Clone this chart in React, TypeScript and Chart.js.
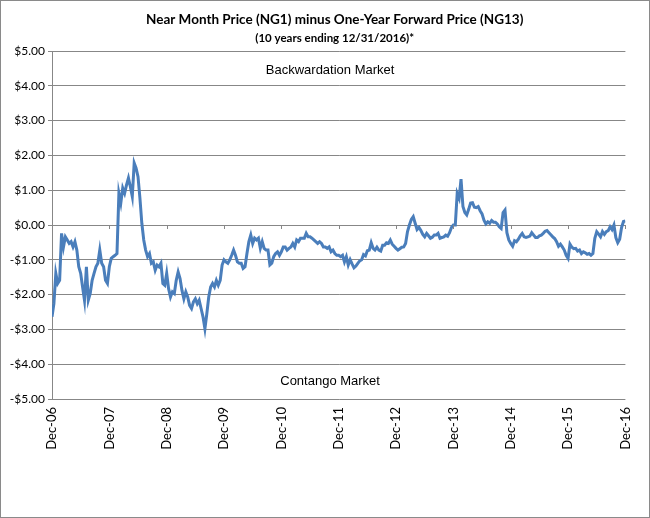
import { useEffect, useRef } from 'react';
import { Chart, registerables } from 'chart.js';

Chart.register(...registerables);

const TITLE = 'Near Month Price (NG1) minus One-Year Forward Price (NG13)';
const SUBTITLE = '(10 years ending 12/31/2016)*';
const TOP_NOTE = 'Backwardation Market';
const BOTTOM_NOTE = 'Contango Market';

const X_LABELS = ['Dec-06', 'Dec-07', 'Dec-08', 'Dec-09', 'Dec-10', 'Dec-11', 'Dec-12', 'Dec-13', 'Dec-14', 'Dec-15', 'Dec-16'];
const Y_MIN = -5;
const Y_MAX = 5;
const STEPS_PER_YEAR = 30;

// NG1 - NG13 spread ($), sampled ~every 12 days, one array per year (Dec to Dec)
const y2007 = [-2.64, -2.26, -1.39, -1.68, -1.59, -0.24, -0.63, -0.34, -0.43, -0.53, -0.48, -0.63, -0.48, -0.72, -1.2, -1.39, -1.78, -2.16, -1.2, -2.16, -1.97, -1.59, -1.39, -1.2, -1.1, -0.72, -1.1, -1.2, -1.59, -1.68];
const y2008 = [-1.2, -0.96, -0.91, -0.87, -0.82, 0.91, 0.63, 1.06, 0.91, 1.15, 1.35, 1.1, 0.82, 1.78, 1.63, 1.39, 0.77, 0.05, -0.43, -0.72, -0.91, -0.82, -1.1, -1.06, -1.3, -1.15, -1.2, -1.1, -1.68, -1.73];
const y2009 = [-1.39, -1.83, -2.07, -1.92, -1.97, -1.59, -1.35, -1.54, -1.88, -2.12, -1.92, -2.07, -2.31, -2.4, -2.21, -2.12, -2.26, -2.16, -2.4, -2.64, -2.98, -2.55, -2.07, -1.78, -1.68, -1.78, -1.59, -1.73, -1.59, -1.15];
const y2010 = [-1.0, -1.06, -1.1, -1.0, -0.87, -0.72, -0.87, -1.06, -1.1, -1.1, -1.25, -1.2, -0.82, -0.48, -0.29, -0.53, -0.38, -0.43, -0.38, -0.67, -0.48, -0.67, -0.72, -0.72, -1.15, -1.1, -0.91, -0.82, -0.77, -0.87];
const y2011 = [-0.77, -0.63, -0.63, -0.72, -0.67, -0.63, -0.53, -0.63, -0.43, -0.48, -0.38, -0.38, -0.38, -0.24, -0.34, -0.34, -0.38, -0.43, -0.48, -0.53, -0.48, -0.53, -0.63, -0.63, -0.67, -0.63, -0.77, -0.72, -0.82, -0.87];
const y2012 = [-0.87, -0.91, -0.87, -1.06, -0.91, -1.15, -1.0, -1.12, -1.23, -1.18, -1.1, -1.03, -1.0, -0.85, -0.89, -0.74, -0.72, -0.51, -0.67, -0.72, -0.64, -0.72, -0.75, -0.58, -0.58, -0.51, -0.53, -0.43, -0.55, -0.61];
const y2013 = [-0.67, -0.72, -0.68, -0.64, -0.63, -0.53, -0.19, 0.0, 0.16, 0.24, 0.05, -0.13, -0.07, -0.16, -0.27, -0.34, -0.24, -0.31, -0.38, -0.35, -0.29, -0.29, -0.24, -0.38, -0.36, -0.34, -0.29, -0.32, -0.22, -0.07];
const y2014 = [0.0, 0.0, 0.91, 0.77, 1.32, 0.53, 0.36, 0.29, 0.45, 0.63, 0.64, 0.51, 0.5, 0.53, 0.41, 0.32, 0.14, 0.03, 0.09, 0.05, 0.13, 0.08, 0.08, 0.03, -0.05, -0.1, 0.36, 0.43, -0.22, -0.43];
const y2015 = [-0.53, -0.61, -0.45, -0.48, -0.41, -0.31, -0.24, -0.34, -0.36, -0.34, -0.32, -0.22, -0.29, -0.36, -0.36, -0.31, -0.29, -0.24, -0.18, -0.16, -0.22, -0.28, -0.34, -0.39, -0.48, -0.61, -0.55, -0.63, -0.72, -0.87];
const y2016 = [-0.96, -0.55, -0.64, -0.68, -0.67, -0.75, -0.72, -0.82, -0.77, -0.8, -0.84, -0.82, -0.87, -0.82, -0.38, -0.19, -0.26, -0.34, -0.19, -0.27, -0.19, -0.16, -0.05, -0.13, 0.0, -0.36, -0.51, -0.41, -0.07, 0.1, 0.12];

const YEARS = [y2007, y2008, y2009, y2010, y2011, y2012, y2013, y2014, y2015, y2016];

const LINE_COLOR = 'rgb(74,126,187)';
const GRID_COLOR = '#878787';

const fmtMoney = (v: number) => (v < 0 ? '-' : '') + '$' + Math.abs(v).toFixed(2);

const overlayPlugin = {
  id: 'overlay',
  afterDraw(chart: any) {
    const { ctx, chartArea, scales } = chart;
    const cx = (chartArea.left + chartArea.right) / 2 - 4;
    ctx.save();
    ctx.fillStyle = '#000';
    ctx.textAlign = 'center';
    ctx.textBaseline = 'middle';
    ctx.font = 'bold 13.5px Lato';
    ctx.fillText(TITLE, cx, 19);
    ctx.font = 'bold 11.5px Lato';
    ctx.fillText(SUBTITLE, cx, 37);
    ctx.font = '13px "Liberation Sans"';
    ctx.fillText(TOP_NOTE, scales.x.getPixelForValue(4.85), scales.y.getPixelForValue(4.45));
    ctx.fillText(BOTTOM_NOTE, scales.x.getPixelForValue(4.85), scales.y.getPixelForValue(-4.5));
    // tick marks on the zero line
    const y0 = scales.y.getPixelForValue(0);
    ctx.strokeStyle = GRID_COLOR;
    ctx.lineWidth = 1;
    for (let k = 1; k < X_LABELS.length; k++) {
      const x = Math.round(scales.x.getPixelForValue(k)) + 0.5;
      ctx.beginPath();
      ctx.moveTo(x, y0);
      ctx.lineTo(x, y0 + 4);
      ctx.stroke();
    }
    ctx.restore();
  },
};

export default function App() {
  const ref = useRef<HTMLCanvasElement>(null);
  useEffect(() => {
    document.body.style.margin = '0';
    const points = YEARS.flatMap((arr, k) => arr.map((v, i) => ({ x: k + i / STEPS_PER_YEAR, y: v })));
    const chart = new Chart(ref.current as HTMLCanvasElement, {
      type: 'line',
      data: {
        datasets: [
          {
            data: points,
            borderColor: LINE_COLOR,
            borderWidth: 3,
            pointRadius: 0,
            tension: 0,
            fill: false,
          },
        ],
      },
      options: {
        animation: false,
        responsive: false,
        layout: { padding: { top: 50, right: 7, left: 0, bottom: 0 } },
        plugins: { legend: { display: false }, tooltip: { enabled: false } },
        scales: {
          x: {
            type: 'linear',
            min: 0,
            max: X_LABELS.length - 1,
            afterBuildTicks: (s: any) => {
              s.ticks = X_LABELS.map((_, i) => ({ value: i }));
            },
            ticks: {
              callback: (v: any) => X_LABELS[v],
              maxRotation: 90,
              minRotation: 90,
              autoSkip: false,
              padding: 8,
              color: '#000',
              font: { family: 'Lato', size: 13 },
            },
            grid: { display: false, drawTicks: false },
            border: { display: false },
            afterFit: (s: any) => {
              s.height = 118;
            },
          },
          y: {
            min: Y_MIN,
            max: Y_MAX,
            ticks: {
              stepSize: 1,
              callback: (v: any) => fmtMoney(Number(v)),
              padding: 3,
              color: '#000',
              font: { family: 'Lato', size: 12 },
            },
            grid: { color: GRID_COLOR, lineWidth: 1, tickLength: 4 },
            border: { display: true, color: GRID_COLOR },
            afterFit: (s: any) => {
              s.width = 51;
            },
          },
        },
      },
      plugins: [overlayPlugin],
    });
    return () => chart.destroy();
  }, []);
  return (
    <div
      style={{
        width: 650,
        height: 518,
        border: '1px solid #8a8a8a',
        boxSizing: 'border-box',
        background: '#fff',
        position: 'relative',
      }}
    >
      <canvas ref={ref} width={648} height={516} style={{ display: 'block' }} />
    </div>
  );
}
